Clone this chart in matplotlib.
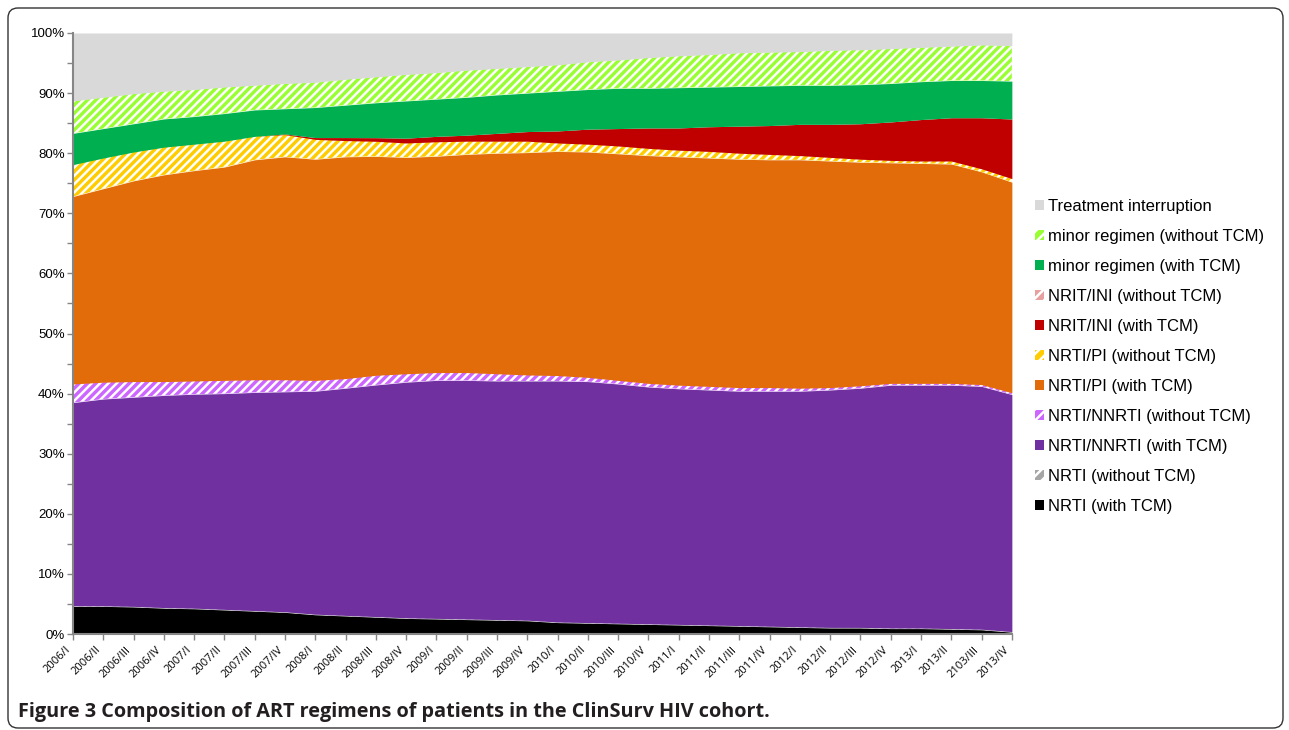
#
# ART regimen composition, ClinSurv HIV cohort
# 100% stacked area chart by quarter
#
import numpy as np
import matplotlib.pyplot as plt
import matplotlib.transforms as mtransforms
from matplotlib.patches import FancyBboxPatch, Patch

plt.rcParams['font.family'] = ['Liberation Sans', 'DejaVu Sans']
plt.rcParams['hatch.color'] = 'white'
plt.rcParams['hatch.linewidth'] = 1.8

# quarters (the 2103/III typo is in the original figure)
quarters = ["2006/I", "2006/II", "2006/III", "2006/IV",
            "2007/I", "2007/II", "2007/III", "2007/IV",
            "2008/I", "2008/II", "2008/III", "2008/IV",
            "2009/I", "2009/II", "2009/III", "2009/IV",
            "2010/I", "2010/II", "2010/III", "2010/IV",
            "2011/I", "2011/II", "2011/III", "2011/IV",
            "2012/I", "2012/II", "2012/III", "2012/IV",
            "2013/I", "2013/II", "2103/III", "2013/IV"]

# share of patients, %
nrti_tcm = [4.6, 4.6, 4.5, 4.3, 4.2, 4.0, 3.8, 3.6, 3.2, 3.0, 2.8, 2.6, 2.5, 2.4, 2.3, 2.2,
            1.9, 1.8, 1.7, 1.6, 1.5, 1.4, 1.3, 1.2, 1.1, 1.0, 1.0, 0.9, 0.9, 0.8, 0.7, 0.3]
nrti_no = [0.1, 0.1, 0.1, 0.1, 0.1, 0.1, 0.1, 0.1, 0.1, 0.1, 0.1, 0.1, 0.1, 0.1, 0.1, 0.1,
           0.1, 0.1, 0.1, 0.1, 0.1, 0.1, 0.1, 0.1, 0.1, 0.1, 0.1, 0.1, 0.1, 0.1, 0.1, 0.1]
nnrti_tcm = [33.8, 34.4, 34.8, 35.3, 35.6, 35.9, 36.3, 36.6, 37.1, 37.8, 38.5, 39.2, 39.6, 39.7, 39.7, 39.8,
             40.1, 40.1, 39.8, 39.4, 39.2, 39.1, 39.0, 39.1, 39.2, 39.5, 39.8, 40.4, 40.4, 40.5, 40.4, 39.4]
nnrti_no = [3.1, 2.8, 2.6, 2.3, 2.2, 2.2, 2.1, 2.0, 1.8, 1.6, 1.6, 1.4, 1.3, 1.3, 1.2, 1.0,
            0.9, 0.7, 0.6, 0.6, 0.6, 0.6, 0.6, 0.6, 0.5, 0.4, 0.4, 0.3, 0.3, 0.3, 0.3, 0.3]
pi_tcm = [31.2, 32.2, 33.4, 34.4, 35.0, 35.5, 36.6, 37.1, 36.8, 36.9, 36.4, 36.0, 36.0, 36.3, 36.7, 37.0,
          37.3, 37.5, 37.7, 37.9, 38.0, 38.0, 38.0, 37.9, 38.0, 37.7, 37.2, 36.7, 36.6, 36.5, 35.4, 35.0]
pi_no = [5.3, 5.1, 4.8, 4.6, 4.4, 4.3, 3.9, 3.7, 3.3, 2.7, 2.5, 2.4, 2.4, 2.2, 2.0, 1.9,
         1.4, 1.3, 1.3, 1.2, 1.1, 1.1, 1.0, 0.9, 0.7, 0.6, 0.5, 0.4, 0.4, 0.5, 0.5, 0.6]
ini_tcm = [0.0, 0.0, 0.0, 0.0, 0.0, 0.0, 0.0, 0.1, 0.3, 0.5, 0.6, 0.8, 0.9, 1.0, 1.3, 1.6,
           2.0, 2.5, 2.9, 3.4, 3.7, 4.1, 4.5, 4.8, 5.2, 5.5, 5.9, 6.4, 6.9, 7.2, 8.5, 9.9]
ini_no = [0.0, 0.0, 0.0, 0.0, 0.0, 0.0, 0.0, 0.0, 0.0, 0.0, 0.0, 0.0, 0.0, 0.0, 0.0, 0.0,
          0.0, 0.0, 0.0, 0.0, 0.0, 0.0, 0.0, 0.0, 0.0, 0.0, 0.0, 0.0, 0.0, 0.0, 0.0, 0.0]
minor_tcm = [5.2, 4.9, 4.7, 4.7, 4.6, 4.6, 4.4, 4.2, 5.0, 5.4, 5.8, 6.2, 6.2, 6.3, 6.4, 6.4,
             6.6, 6.6, 6.7, 6.6, 6.7, 6.6, 6.6, 6.6, 6.5, 6.5, 6.5, 6.4, 6.3, 6.2, 6.2, 6.3]
minor_no = [5.4, 5.2, 5.0, 4.6, 4.5, 4.4, 4.1, 4.2, 4.2, 4.3, 4.3, 4.4, 4.4, 4.5, 4.4, 4.4,
            4.4, 4.6, 4.7, 5.1, 5.3, 5.4, 5.6, 5.6, 5.6, 5.8, 5.8, 5.8, 5.7, 5.7, 5.9, 5.9]
interruption = [11.3, 10.7, 10.1, 9.7, 9.4, 9.0, 8.7, 8.4, 8.2, 7.7, 7.3, 6.9, 6.6, 6.2, 5.9, 5.6,
                5.3, 4.8, 4.5, 4.1, 3.8, 3.6, 3.3, 3.2, 3.1, 2.9, 2.8, 2.6, 2.4, 2.2, 2.0, 2.1]

# bottom to top: label, values, colour, hatched
series = [
    ("NRTI (with TCM)", nrti_tcm, "#000000", False),
    ("NRTI (without TCM)", nrti_no, "#A6A6A6", True),
    ("NRTI/NNRTI (with TCM)", nnrti_tcm, "#7030A0", False),
    ("NRTI/NNRTI (without TCM)", nnrti_no, "#CC66FF", True),
    ("NRTI/PI (with TCM)", pi_tcm, "#E36C0A", False),
    ("NRTI/PI (without TCM)", pi_no, "#FFCC00", True),
    ("NRIT/INI (with TCM)", ini_tcm, "#C00000", False),
    ("NRIT/INI (without TCM)", ini_no, "#E6A0A0", True),
    ("minor regimen (with TCM)", minor_tcm, "#00B050", False),
    ("minor regimen (without TCM)", minor_no, "#99FF33", True),
    ("Treatment interruption", interruption, "#D9D9D9", False),
]

# 100% stacking
data = np.array([s[1] for s in series], dtype=float)
data = data / data.sum(axis=0) * 100
tops = np.cumsum(data, axis=0)
x = np.arange(len(quarters))

fig = plt.figure(figsize=(12.89, 7.30), dpi=100)
ax = fig.add_axes([0.0566, 0.1315, 0.7284, 0.8233])

handles = []
bottom = np.zeros(len(quarters))
for i, (label, vals, color, hatched) in enumerate(series):
    ax.fill_between(x, bottom, tops[i], facecolor=color, edgecolor='white',
                    linewidth=0, hatch='////' if hatched else None)
    handles.append(Patch(facecolor=color, edgecolor='white', linewidth=0,
                         hatch='///' if hatched else None, label=label))
    bottom = tops[i]

# axes
ax.set_xlim(0, len(quarters) - 1)
ax.set_ylim(0, 100)
ax.set_yticks(np.arange(0, 101, 10))
ax.set_yticklabels([f"{v}%" for v in range(0, 101, 10)], fontsize=9.5)
ax.set_yticks(np.arange(5, 100, 10), minor=True)
ax.set_xticks(x)
ax.set_xticklabels(quarters, rotation=45, ha='right', va='top', fontsize=8,
                   family=['Open Sans', 'DejaVu Sans'])
offset = mtransforms.ScaledTranslation(10 / 100, 0, fig.dpi_scale_trans)
for lbl in ax.get_xticklabels():
    lbl.set_transform(lbl.get_transform() + offset)

for side in ['top', 'right']:
    ax.spines[side].set_visible(False)
for side in ['left', 'bottom']:
    ax.spines[side].set_color('#868686')
    ax.spines[side].set_linewidth(1.5)
ax.tick_params(which='both', direction='out', length=4, color='#868686', width=1)
ax.tick_params(axis='y', pad=2)

# legend, top entry first
leg = ax.legend(handles[::-1], [h.get_label() for h in handles[::-1]],
                loc='center left', bbox_to_anchor=(0.7978, 0.5116),
                bbox_transform=fig.transFigure, frameon=False, fontsize=12.0,
                handlelength=0.55, handleheight=0.55, handletextpad=0.2,
                labelspacing=0.9, borderaxespad=0)

# caption
fig.text(0.014, 0.025, "Figure 3 Composition of ART regimens of patients in the ClinSurv HIV cohort.",
         fontsize=14.3, fontweight='bold', color='#231F20', va='center',
         family=['Open Sans', 'DejaVu Sans'])

# rounded frame
frame = FancyBboxPatch((8, 2), 1275, 720, boxstyle='round,pad=0,rounding_size=10',
                       transform=mtransforms.IdentityTransform(),
                       facecolor='none', edgecolor='#333333', linewidth=1)
fig.patches.append(frame)

plt.savefig('out.png', dpi=100)
